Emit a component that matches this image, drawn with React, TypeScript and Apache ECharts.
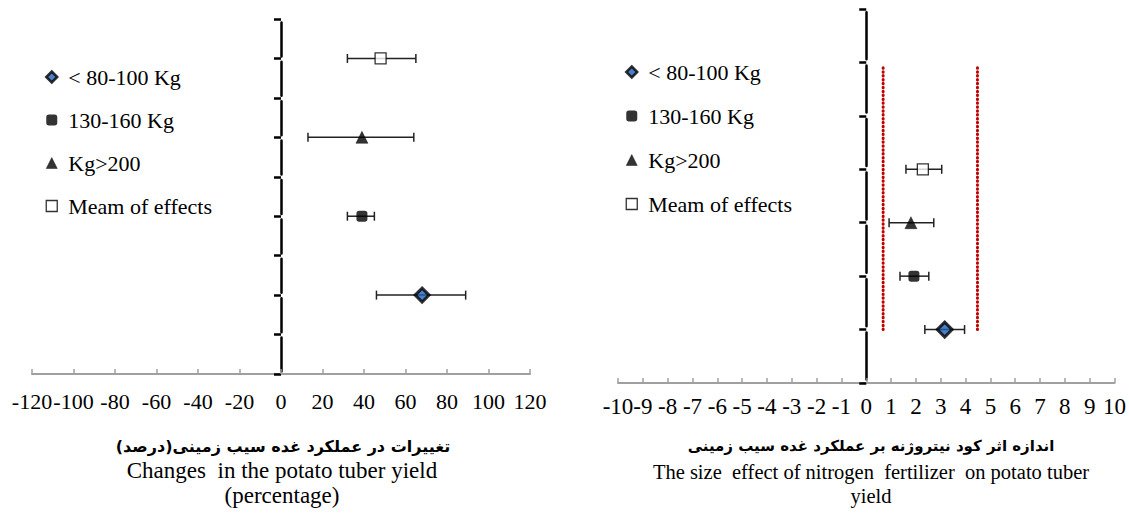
import React, { useEffect, useRef } from "react";
import * as echarts from "echarts";

// ---- Data ----
const seriesNames = ["< 80-100 Kg", "130-160 Kg", "Kg>200", "Meam of effects"];

// Left chart: changes in potato tuber yield (percentage)
const leftRows = [2, 4, 6, 8];
const leftMeans = [68, 39, 39, 48];
const leftLows = [46, 32, 13, 32];
const leftHighs = [89, 45, 64, 65];
const leftXMin = -120;
const leftXMax = 120;
const leftXStep = 20;
const leftYMax = 9;

// Right chart: effect size of nitrogen fertilizer
const rightRows = [1, 2, 3, 4];
const rightMeans = [3.16, 1.92, 1.8, 2.28];
const rightLows = [2.36, 1.36, 0.92, 1.6];
const rightHighs = [3.96, 2.52, 2.72, 3.04];
const rightXMin = -10;
const rightXMax = 10;
const rightXStep = 1;
const rightYMax = 7;
const refLineX = [0.68, 4.48];
const refLineY = [1, 5.9];

const leftTitleFa = "تغییرات در عملکرد غده سیب زمینی(درصد)";
const leftTitleEn = ["Changes  in the potato tuber yield", "(percentage)"];
const rightTitleFa = "اندازه اثر کود نیتروژنه بر عملکرد غده سیب زمینی";
const rightTitleEn = ["The size  effect of nitrogen  fertilizer  on potato tuber", "yield"];

// ---- Styles ----
const SERIF = "'Liberation Serif', 'Times New Roman', serif";
const symbolDefs = [
  { symbol: "diamond", size: 14, itemStyle: { color: "#1f5fb4", borderColor: "#000", borderWidth: 3 } },
  { symbol: "roundRect", size: 11, itemStyle: { color: "#000", borderColor: "#000", borderWidth: 0 } },
  { symbol: "triangle", size: 12, itemStyle: { color: "#000", borderColor: "#000", borderWidth: 0.5 } },
  { symbol: "rect", size: 11, itemStyle: { color: "#fff", borderColor: "#000", borderWidth: 1.3 } },
];

const errRender = (params: any, api: any) => {
  const y = api.value(1);
  const a = api.coord([api.value(2), y]);
  const b = api.coord([api.value(3), y]);
  const h = 4.5;
  const style = { stroke: "#222", lineWidth: 1.5 };
  return {
    type: "group",
    children: [
      { type: "line", shape: { x1: a[0], y1: a[1], x2: b[0], y2: b[1] }, style },
      { type: "line", shape: { x1: a[0], y1: a[1] - h, x2: a[0], y2: a[1] + h }, style },
      { type: "line", shape: { x1: b[0], y1: b[1] - h, x2: b[0], y2: b[1] + h }, style },
    ],
  };
};

function makeXAxis(grid: number, min: number, max: number, step: number, margin: number, fontSize: number) {
  return {
    type: "value",
    gridIndex: grid,
    min,
    max,
    interval: step,
    splitLine: { show: false },
    axisLine: { show: true, onZero: true, lineStyle: { color: "#a0a0a0", width: 2 } },
    axisTick: { show: true, inside: true, length: 5, lineStyle: { color: "#a0a0a0", width: 1.5 } },
    axisLabel: {
      show: true,
      color: "#000",
      fontFamily: SERIF,
      fontSize,
      margin,
      showMinLabel: true,
      showMaxLabel: true,
      hideOverlap: false,
    },
  };
}

function makeYAxis(grid: number, max: number, dash: number[]) {
  return {
    type: "value",
    gridIndex: grid,
    min: 0,
    max,
    interval: 1,
    splitLine: { show: false },
    axisLabel: { show: false },
    axisLine: {
      show: true,
      onZero: true,
      lineStyle: { color: "#000", width: 2.5, type: dash, dashOffset: dash[0] + dash[1] / 2 },
    },
    axisTick: { show: true, length: 7, lineStyle: { color: "#000", width: 2.5 } },
  };
}

function makeLegend(left: number, top: number, gap: number) {
  return {
    orient: "vertical",
    left,
    top,
    itemWidth: 11,
    itemHeight: 11,
    itemGap: gap,
    selectedMode: false,
    textStyle: { fontFamily: SERIF, fontSize: 22, color: "#000", lineHeight: 22, padding: [0, 0, 0, 6] },
    data: seriesNames.map((n, i) => ({
      name: n,
      icon: symbolDefs[i].symbol,
      itemStyle: { ...symbolDefs[i].itemStyle, borderWidth: i === 0 ? 2.5 : symbolDefs[i].itemStyle.borderWidth },
    })),
  };
}

function buildOption() {
  const series: any[] = [];
  // error bars
  series.push({
    type: "custom",
    name: "err-left",
    xAxisIndex: 0,
    yAxisIndex: 0,
    renderItem: errRender,
    silent: true,
    z: 2,
    encode: { x: [0, 2, 3], y: 1 },
    data: leftRows.map((r, i) => [leftMeans[i], r, leftLows[i], leftHighs[i]]),
  });
  series.push({
    type: "custom",
    name: "err-right",
    xAxisIndex: 1,
    yAxisIndex: 1,
    renderItem: errRender,
    silent: true,
    z: 2,
    encode: { x: [0, 2, 3], y: 1 },
    data: rightRows.map((r, i) => [rightMeans[i], r, rightLows[i], rightHighs[i]]),
  });
  // reference dotted lines (right chart)
  refLineX.forEach((x, k) => {
    series.push({
      type: "line",
      name: "ref-" + k,
      xAxisIndex: 1,
      yAxisIndex: 1,
      symbol: "none",
      silent: true,
      z: 1,
      lineStyle: { color: "#c00000", width: 3, type: [0.5, 3.4], cap: "round" },
      data: [[x, refLineY[0]], [x, refLineY[1]]],
    });
  });
  // markers
  seriesNames.forEach((n, i) => {
    const d = symbolDefs[i];
    series.push({
      type: "scatter",
      name: n,
      xAxisIndex: 0,
      yAxisIndex: 0,
      symbol: d.symbol,
      symbolSize: d.size,
      itemStyle: d.itemStyle,
      z: 5,
      data: [[leftMeans[i], leftRows[i]]],
    });
    series.push({
      type: "scatter",
      name: n,
      xAxisIndex: 1,
      yAxisIndex: 1,
      symbol: d.symbol,
      symbolSize: i === 0 ? d.size + 1 : d.size,
      itemStyle: d.itemStyle,
      z: 5,
      data: [[rightMeans[i], rightRows[i]]],
    });
  });

  const faFont = "bold 16px 'DejaVu Sans', sans-serif";

  return {
    animation: false,
    backgroundColor: "#fff",
    grid: [
      { left: 32, right: 599, top: 19, bottom: 146 },
      { left: 618, right: 11, top: 9, bottom: 137 },
    ],
    xAxis: [
      makeXAxis(0, leftXMin, leftXMax, leftXStep, 16, 22),
      makeXAxis(1, rightXMin, rightXMax, rightXStep, 12, 23),
    ],
    yAxis: [makeYAxis(0, leftYMax, [34, 5.4]), makeYAxis(1, rightYMax, [47, 6.4])],
    legend: [makeLegend(40, 61, 21), makeLegend(620, 56, 22)],
    graphic: [
      { type: "text", x: 283, y: 446, style: { text: leftTitleFa, font: faFont, fill: "#000", align: "center", verticalAlign: "middle" } },
      { type: "text", x: 282, y: 470, style: { text: leftTitleEn[0], font: `23px ${SERIF}`, fill: "#000", align: "center", verticalAlign: "middle" } },
      { type: "text", x: 282, y: 495, style: { text: leftTitleEn[1], font: `23px ${SERIF}`, fill: "#000", align: "center", verticalAlign: "middle" } },
      { type: "text", x: 871, y: 446, style: { text: rightTitleFa, font: "bold 15px 'DejaVu Sans', sans-serif", fill: "#000", align: "center", verticalAlign: "middle" } },
      { type: "text", x: 871, y: 472, style: { text: rightTitleEn[0], font: `20.5px ${SERIF}`, fill: "#000", align: "center", verticalAlign: "middle" } },
      { type: "text", x: 871, y: 496, style: { text: rightTitleEn[1], font: `20.5px ${SERIF}`, fill: "#000", align: "center", verticalAlign: "middle" } },
    ],
    series,
  };
}

export default function App() {
  const ref = useRef<HTMLDivElement>(null);
  useEffect(() => {
    document.body.style.margin = "0";
    const chart = echarts.init(ref.current as HTMLDivElement, null, { renderer: "svg" });
    chart.setOption(buildOption() as any);
    return () => chart.dispose();
  }, []);
  return <div ref={ref} style={{ width: 1129, height: 520, background: "#fff" }} />;
}
